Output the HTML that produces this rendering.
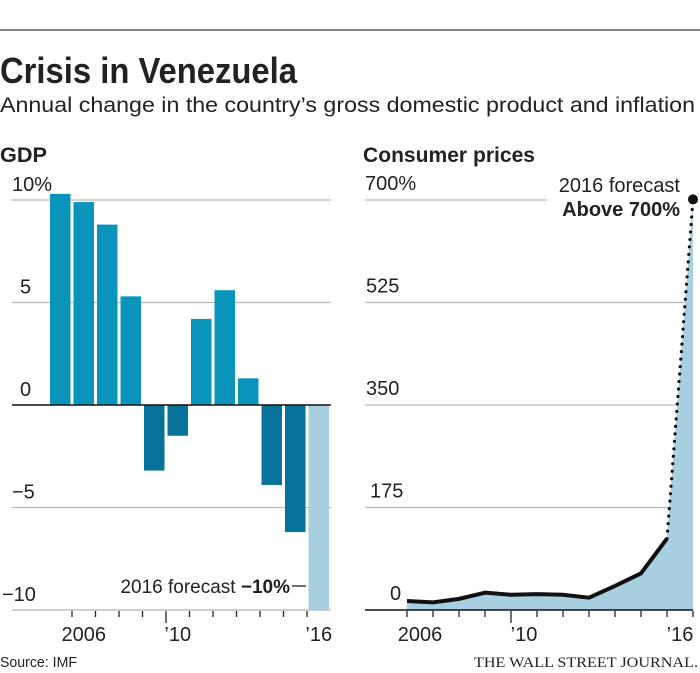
<!DOCTYPE html>
<html><head><meta charset="utf-8"><style>
html,body{margin:0;padding:0;background:#fff;}
svg{display:block;}
text{font-family:"Liberation Sans Narrow","Liberation Sans",sans-serif;fill:#222;}
</style></head><body>
<svg id="chart" width="700" height="673" viewBox="0 0 700 673">
<line x1="0" y1="30" x2="700" y2="30" stroke="#333" stroke-width="1.2"/>
<text x="0" y="83" font-size="36" font-weight="bold" textLength="297" lengthAdjust="spacingAndGlyphs">Crisis in Venezuela</text>
<text x="0" y="112" font-size="21" textLength="695" lengthAdjust="spacingAndGlyphs">Annual change in the country’s gross domestic product and inflation</text>
<text x="0" y="162" font-size="21" font-weight="bold" textLength="47" lengthAdjust="spacingAndGlyphs">GDP</text>
<text x="363" y="162" font-size="21" font-weight="bold" textLength="172" lengthAdjust="spacingAndGlyphs">Consumer prices</text>
<g id="gdp"></g>
<g id="cpi"></g>
<text x="0" y="667" font-size="15" textLength="77" lengthAdjust="spacingAndGlyphs">Source: IMF</text>
<text x="698" y="667" font-size="15" text-anchor="end" style="font-family:'Liberation Serif',serif" textLength="224" lengthAdjust="spacingAndGlyphs">THE WALL STREET JOURNAL.</text>
</svg>
<script>
const NS="http://www.w3.org/2000/svg";
// GDP data
const gdpYears=[2005,2006,2007,2008,2009,2010,2011,2012,2013,2014,2015,2016];
const gdpValues=[10.3,9.9,8.8,5.3,-3.2,-1.5,4.2,5.6,1.3,-3.9,-6.2,-10];
const gdpForecast=[false,false,false,false,false,false,false,false,false,false,false,true];
const gdpTicks=[10,5,0,-5,-10];
const gdpTickLabels=["10%","5","0","\u22125","\u221210"];
const gdpXLabels=[[1,"2006"],[5,"\u201910"],[11,"\u201916"]];
// CPI data
const cpiYears=[2005,2006,2007,2008,2009,2010,2011,2012,2013,2014,2015,2016];
const cpiValues=[15.4,13,19,29.6,26,27,26,21,41,62.6,122,701];
const cpiTicks=[700,525,350,175,0];
const cpiTickLabels=["700%","525","350","175","0"];
const cpiXLabels=[[0,"2006"],[4,"\u201910"],[10,"\u201916"]];

function mk(tag,attrs,parent){const e=document.createElementNS(NS,tag);for(const k in attrs)e.setAttribute(k,attrs[k]);parent.appendChild(e);return e;}

// GDP chart
const g=document.getElementById('gdp');
const gy=v=>405-v*20.5;
const gx=i=>50+i*23.5;
const bw=20.5;
gdpTicks.forEach((t,i)=>{
  if(t!==0){const l=mk('line',{x1:12,x2:331,y1:gy(t),y2:gy(t),stroke:'#bbb','stroke-width':1.2},g);
  
  }
  const tx=mk('text',{x:t===-10?2:(t===10||t===-5?12:20),y:gy(t)-9,'font-size':20},g);
  tx.textContent=gdpTickLabels[i];
  
  
});
gdpValues.forEach((v,i)=>{
  const col=gdpForecast[i]?'#a7cfe0':(v>=0?'#0b94bb':'#07739a');
  const r=mk('rect',{x:gx(i),y:Math.min(gy(v),gy(0)),width:bw,height:Math.abs(gy(v)-gy(0)),fill:col},g);
  
  
});
const z=mk('line',{x1:12,x2:331,y1:gy(0),y2:gy(0),stroke:'#111','stroke-width':1.5},g);


const gb=mk('line',{x1:12,x2:331,y1:gy(-10),y2:gy(-10),stroke:'#bbb','stroke-width':1.2},g);


for(let i=1;i<gdpYears.length;i++){
  const x=gx(i)-1.5;
  const tk=mk('line',{x1:x,x2:x,y1:611,y2:i===5?623:617,stroke:'#222','stroke-width':1.3},g);
  
  
}
gdpXLabels.forEach(([i,s])=>{
  const t=mk('text',{x:gx(i)+bw/2,y:641,'font-size':20,'text-anchor':'middle'},g);
  t.textContent=s;
  
  
});
const fa=mk('text',{x:290,y:593,'font-size':19,'text-anchor':'end'},g);
fa.innerHTML='2016 forecast <tspan font-weight="bold">\u221210%</tspan>';


const fl=mk('line',{x1:292,x2:306,y1:586,y2:586,stroke:'#222','stroke-width':1.3},g);



// CPI chart
const c=document.getElementById('cpi');
const cy=v=>610-v*(410/700);
const cx=i=>407+i*26.0;
cpiTicks.forEach((t,i)=>{
  if(t!==0){const l=mk('line',{x1:365,x2:t===700?547:693,y1:cy(t),y2:cy(t),stroke:'#bbb','stroke-width':1.2},c);
  
  }
  const tx=mk('text',{x:t===700?365:(t===0?390:(t===175?370:366)),y:cy(t)-10,'font-size':20},c);
  tx.textContent=cpiTickLabels[i];
  
  
});
const n=cpiValues.length;
let ad='M'+cx(0)+','+cy(0);
cpiValues.forEach((v,i)=>{ad+=' L'+cx(i)+','+cy(v);});
ad+=' L'+cx(n-1)+','+cy(0)+' Z';
const area=mk('path',{d:ad,fill:'#a7cfe0'},c);


let ld='';
for(let i=0;i<n-1;i++)ld+=(i?' L':'M')+cx(i)+','+cy(cpiValues[i]);
const line=mk('path',{d:ld,fill:'none',stroke:'#111','stroke-width':4,'stroke-linejoin':'round'},c);


const dl=mk('line',{x1:cx(n-2),y1:cy(cpiValues[n-2]),x2:cx(n-1),y2:cy(cpiValues[n-1]),stroke:'#111','stroke-width':3.2,'stroke-dasharray':'0 7.5','stroke-linecap':'round'},c);


const dot=mk('circle',{cx:cx(n-1),cy:cy(cpiValues[n-1]),r:5,fill:'#111'},c);


const ax=mk('line',{x1:365,x2:693,y1:cy(0),y2:cy(0),stroke:'#111','stroke-width':1.5},c);


for(let i=0;i<n;i++){
  const tk=mk('line',{x1:cx(i),x2:cx(i),y1:611,y2:i===4?623:617,stroke:'#222','stroke-width':1.3},c);
  
  
}
cpiXLabels.forEach(([i,s])=>{
  const t=mk('text',{x:cx(i)+13,y:641,'font-size':20,'text-anchor':'middle'},c);
  t.textContent=s;
  
  
});
const a1=mk('text',{x:680,y:192,'font-size':20,'text-anchor':'end'},c);
a1.textContent='2016 forecast';


const a2=mk('text',{x:680,y:216,'font-size':20,'font-weight':'bold','text-anchor':'end'},c);
a2.textContent='Above 700%';


</script>
</body></html>
